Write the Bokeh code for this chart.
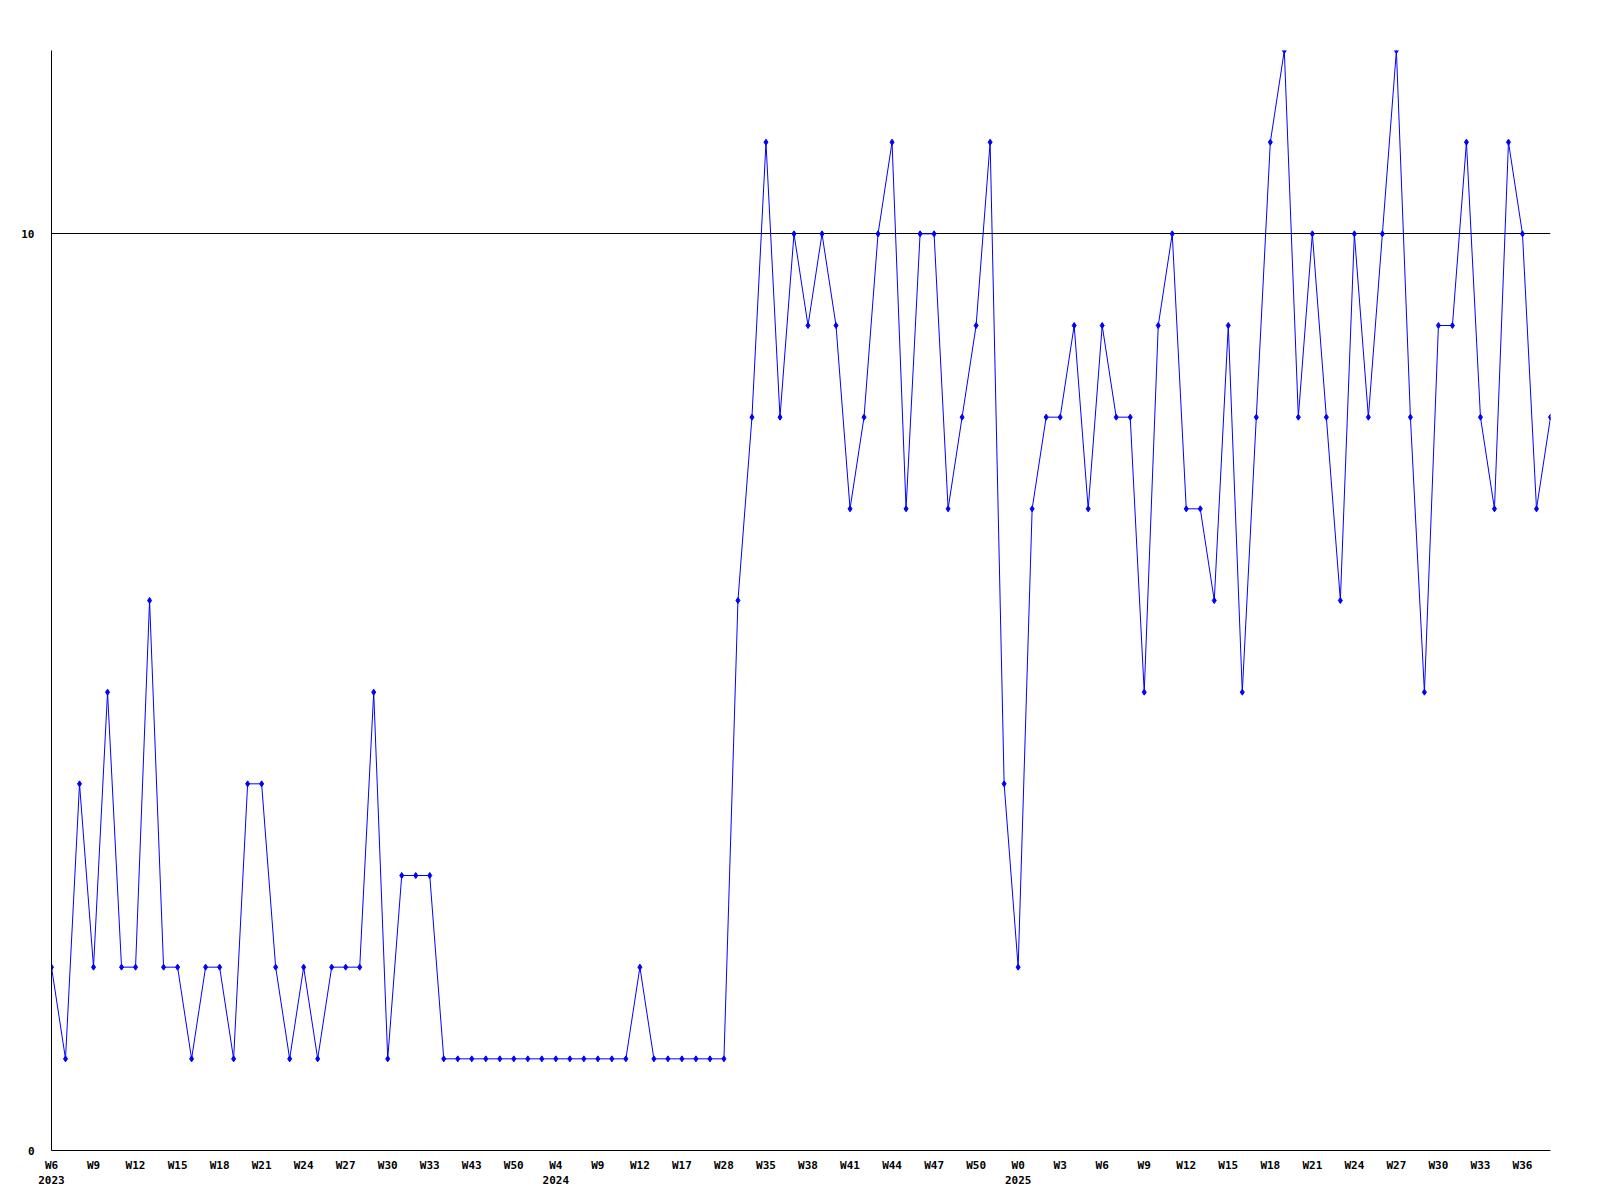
from bokeh.plotting import figure
from bokeh.models import Range1d, FixedTicker
from bokeh.embed import file_html
from bokeh.resources import INLINE

# Weekly values (one point per reported week)
values = [
    2, 1, 4, 2, 5, 2, 2, 6, 2, 2,
    1, 2, 2, 1, 4, 4, 2, 1, 2, 1,
    2, 2, 2, 5, 1, 3, 3, 3, 1, 1,
    1, 1, 1, 1, 1, 1, 1, 1, 1, 1,
    1, 1, 2, 1, 1, 1, 1, 1, 1, 6,
    8, 11, 8, 10, 9, 10, 9, 7, 8, 10,
    11, 7, 10, 10, 7, 8, 9, 11, 4, 2,
    7, 8, 8, 9, 7, 9, 8, 8, 5, 9,
    10, 7, 7, 6, 9, 5, 8, 11, 12, 8,
    10, 8, 6, 10, 8, 10, 12, 8, 5, 9,
    9, 11, 8, 7, 11, 10, 7, 8,
]

# Tick labels shown every third point
tick_labels = [
    "W6\n2023", "W9", "W12", "W15", "W18", "W21", "W24", "W27", "W30", "W33",
    "W43", "W50", "W4\n2024", "W9", "W12", "W17", "W28", "W35", "W38", "W41",
    "W44", "W47", "W50", "W0\n2025", "W3", "W6", "W9", "W12", "W15", "W18",
    "W21", "W24", "W27", "W30", "W33", "W36",
]
y_ticks = [0, 10]

x = list(range(len(values)))
tick_pos = [3 * i for i in range(len(tick_labels))]

p = figure(
    frame_width=1499, frame_height=1100,
    min_border_left=51, min_border_top=50, min_border_right=10, min_border_bottom=46,
    output_backend="svg", toolbar_location=None,
    x_range=Range1d(0, len(values) - 1), y_range=Range1d(0, 12),
)
p.outline_line_color = None
p.background_fill_color = "white"
p.border_fill_color = "white"

font = "DejaVu Sans Mono"
for ax in (p.xaxis[0], p.yaxis[0]):
    ax.axis_line_color = "black"
    ax.axis_line_width = 1
    ax.major_tick_line_color = None
    ax.minor_tick_line_color = None
    ax.major_tick_out = 0
    ax.major_tick_in = 0
    ax.major_label_text_font = font
    ax.major_label_text_font_style = "bold"
    ax.major_label_text_font_size = "11px"
    ax.major_label_text_color = "black"

p.xaxis[0].ticker = FixedTicker(ticks=tick_pos)
p.xaxis[0].major_label_overrides = {t: lab for t, lab in zip(tick_pos, tick_labels)}
p.xaxis[0].major_label_standoff = 8

p.yaxis[0].ticker = FixedTicker(ticks=y_ticks)
p.yaxis[0].major_label_standoff = 17

p.xgrid.visible = False
p.ygrid[0].ticker = FixedTicker(ticks=[10])
p.ygrid[0].grid_line_color = "black"
p.ygrid[0].grid_line_width = 1
p.ygrid[0].grid_line_alpha = 1.0

p.line(x, values, line_color="#0000ff", line_width=1)
p.scatter(x, values, marker="diamond", size=6, fill_color="#0000ff", line_color="#0000ff")

open("out.html", "w").write(file_html(p, INLINE))
